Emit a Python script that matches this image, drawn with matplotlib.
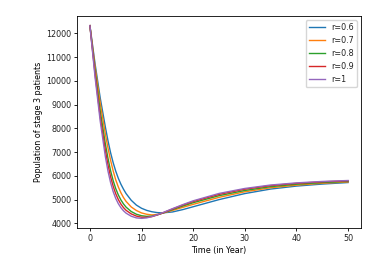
import matplotlib
matplotlib.use("Agg")
import matplotlib.pyplot as plt

# Time points (years)
t = [0, 1, 2, 3, 3.5, 4, 4.5, 5, 5.5, 6, 6.5, 7, 8, 9, 10, 11, 12, 13, 14,
     16, 18, 20, 25, 30, 35, 40, 45, 50]

r06 = [12330, 10720, 9280, 8050, 7480, 6980, 6560, 6200, 5900, 5650, 5440, 5256,
       4972, 4769, 4635, 4546, 4489, 4454, 4440,
       4480, 4580, 4700, 5000, 5255, 5445, 5570, 5655, 5720]
r07 = [12330, 10587, 9067, 7750, 7171, 6660, 6211, 5834, 5535, 5290, 5089, 4926,
       4690, 4541, 4438, 4383, 4355, 4375, 4425,
       4545, 4675, 4800, 5095, 5330, 5500, 5610, 5690, 5745]
r08 = [12330, 10404, 8735, 7337, 6738, 6222, 5802, 5465, 5198, 4987, 4819, 4685,
       4498, 4384, 4320, 4295, 4305, 4355, 4425,
       4580, 4730, 4870, 5165, 5385, 5545, 5648, 5718, 5768]
r09 = [12330, 10279, 8478, 7061, 6469, 5968, 5567, 5249, 5003, 4813, 4664, 4549,
       4398, 4306, 4258, 4255, 4285, 4350, 4430,
       4605, 4770, 4920, 5220, 5440, 5590, 5685, 5750, 5792]
r10 = [12330, 10150, 8300, 6800, 6200, 5720, 5340, 5050, 4830, 4660, 4530, 4430,
       4300, 4230, 4210, 4230, 4285, 4360, 4440,
       4620, 4790, 4950, 5260, 5470, 5615, 5705, 5765, 5805]

series = [r06, r07, r08, r09, r10]
labels = ["r=0.6", "r=0.7", "r=0.8", "r=0.9", "r=1"]
colors = ["#1f77b4", "#ff7f0e", "#2ca02c", "#d62728", "#9467bd"]

fs = 5.75
plt.rcParams.update({
    "font.size": fs,
    "axes.linewidth": 0.6,
    "xtick.major.size": 2.2,
    "ytick.major.size": 2.2,
    "xtick.major.width": 0.6,
    "ytick.major.width": 0.6,
    "xtick.major.pad": 2.0,
    "ytick.major.pad": 2.0,
    "text.color": "#222222",
    "xtick.labelcolor": "#222222",
    "ytick.labelcolor": "#222222",
})

fig = plt.figure(figsize=(3.85, 2.62), dpi=100)
ax = fig.add_axes([77/385, 34/262, 284/385, 212/262])
for y, lab, c in zip(series, labels, colors):
    ax.plot(t, y, color=c, lw=1.0, label=lab)

ax.set_xticks([0, 10, 20, 30, 40, 50])
ax.set_yticks([4000, 5000, 6000, 7000, 8000, 9000, 10000, 11000, 12000])
ax.set_xlabel("Time (in Year)", fontsize=fs, labelpad=2.5)
ax.set_ylabel("Population of stage 3 patients", fontsize=fs, labelpad=2.5)
ax.legend(loc="upper right", fontsize=fs, frameon=True, borderpad=0.4,
          labelspacing=0.5, handlelength=2.0, handletextpad=0.8, borderaxespad=0.5)
fig.savefig("out.png", dpi=100)
